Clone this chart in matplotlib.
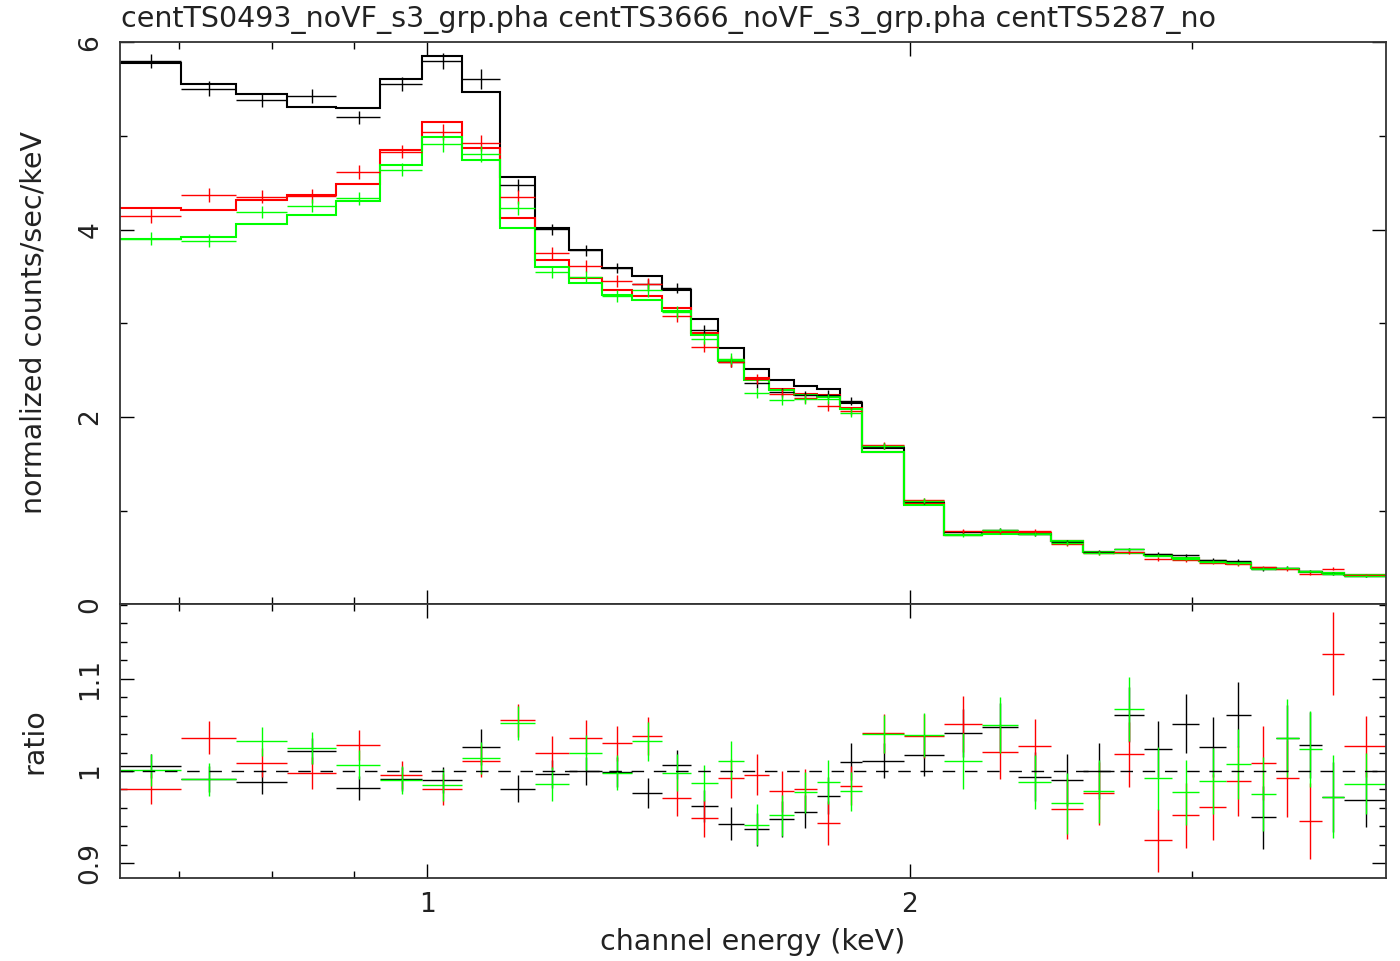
import numpy as np
import matplotlib.pyplot as plt
from matplotlib.ticker import FixedLocator, NullFormatter, FormatStrFormatter, MultipleLocator

# channel grouping (keV bin edges)
edges = [0.643, 0.702, 0.760, 0.818, 0.877, 0.935, 0.993, 1.052, 1.110, 1.168,
         1.226, 1.285, 1.343, 1.402, 1.460, 1.518, 1.577, 1.635, 1.693, 1.751,
         1.809, 1.868, 1.985, 2.101, 2.218, 2.336, 2.451, 2.567, 2.684, 2.801,
         2.917, 3.033, 3.150, 3.266, 3.384, 3.499, 3.617, 3.733, 3.972]

# folded model, counts/sec/keV
model_0493 = [5.775, 5.554, 5.447, 5.311, 5.297, 5.608, 5.857, 5.465, 4.563, 4.014,
              3.779, 3.594, 3.504, 3.354, 3.048, 2.738, 2.517, 2.391, 2.335, 2.299,
              2.150, 1.668, 1.080, 0.741, 0.759, 0.752, 0.677, 0.563, 0.552, 0.527,
              0.499, 0.463, 0.438, 0.392, 0.378, 0.349, 0.338, 0.310]
model_3666 = [4.228, 4.214, 4.313, 4.370, 4.488, 4.852, 5.144, 4.870, 4.121, 3.675,
              3.487, 3.351, 3.290, 3.166, 2.898, 2.613, 2.417, 2.299, 2.246, 2.238,
              2.100, 1.630, 1.070, 0.745, 0.762, 0.765, 0.672, 0.560, 0.548, 0.523,
              0.494, 0.460, 0.434, 0.390, 0.375, 0.347, 0.336, 0.308]
model_5287 = [3.900, 3.918, 4.060, 4.153, 4.303, 4.685, 4.990, 4.741, 4.021, 3.600,
              3.426, 3.297, 3.247, 3.129, 2.873, 2.595, 2.399, 2.292, 2.238, 2.214,
              2.090, 1.626, 1.065, 0.735, 0.752, 0.755, 0.675, 0.562, 0.550, 0.525,
              0.497, 0.462, 0.436, 0.391, 0.376, 0.348, 0.337, 0.309]

# data / model
ratio_0493 = [1.005, 0.991, 0.988, 1.022, 0.982, 0.991, 0.990, 1.026, 0.981, 0.997,
              1.000, 0.999, 0.976, 1.007, 0.962, 0.943, 0.937, 0.948, 0.956, 0.973,
              1.010, 1.011, 1.017, 1.041, 1.048, 0.994, 0.990, 1.000, 1.061, 1.024,
              1.051, 1.026, 1.061, 0.950, 1.036, 1.028, 0.972, 0.969]
ratio_3666 = [0.981, 1.036, 1.009, 0.998, 1.028, 0.996, 0.980, 1.011, 1.055, 1.020,
              1.036, 1.030, 1.038, 0.971, 0.949, 0.992, 0.996, 0.978, 0.980, 0.944,
              0.984, 1.041, 1.038, 1.051, 1.021, 1.027, 0.959, 0.976, 1.018, 0.925,
              0.952, 0.961, 0.989, 1.009, 0.992, 0.946, 1.127, 1.027]
ratio_5287 = [1.001, 0.991, 1.032, 1.025, 1.007, 0.990, 0.985, 1.014, 1.052, 0.986,
              1.020, 0.998, 1.032, 0.998, 0.987, 1.011, 0.942, 0.952, 0.977, 0.988,
              0.978, 1.040, 1.039, 1.011, 1.050, 0.988, 0.965, 0.978, 1.067, 0.992,
              0.977, 0.989, 1.008, 0.975, 1.036, 1.024, 0.972, 0.986]

# 1-sigma errors on the ratio
err_0493 = [0.013, 0.014, 0.013, 0.014, 0.013, 0.013, 0.014, 0.020, 0.015, 0.015,
            0.015, 0.016, 0.016, 0.016, 0.017, 0.018, 0.018, 0.019, 0.018, 0.020,
            0.020, 0.019, 0.022, 0.026, 0.026, 0.027, 0.028, 0.030, 0.030, 0.030,
            0.032, 0.032, 0.035, 0.034, 0.036, 0.036, 0.038, 0.030]
err_other = [0.017, 0.018, 0.016, 0.017, 0.016, 0.015, 0.017, 0.017, 0.018, 0.018,
             0.019, 0.019, 0.021, 0.020, 0.020, 0.021, 0.022, 0.022, 0.022, 0.024,
             0.021, 0.021, 0.024, 0.030, 0.030, 0.029, 0.033, 0.034, 0.035, 0.034,
             0.035, 0.036, 0.038, 0.040, 0.042, 0.041, 0.045, 0.033]

title = "centTS0493_noVF_s3_grp.pha centTS3666_noVF_s3_grp.pha centTS5287_no"

series = [
    (model_0493, ratio_0493, err_0493, "black"),
    (model_3666, ratio_3666, err_other, "#ff0000"),
    (model_5287, ratio_5287, err_other, "#00ff00"),
]

plt.rcParams['font.family'] = 'DejaVu Sans'
plt.rcParams['font.size'] = 19
txt_col = '#222222'
label_size = 20.5

W, H = 1400, 961
fig = plt.figure(figsize=(W / 100, H / 100), dpi=100)
left, right = 120 / W, 1386 / W
ax1 = fig.add_axes([left, 1 - 604.3 / H, right - left, (604.3 - 42.3) / H])
ax2 = fig.add_axes([left, 1 - 877.7 / H, right - left, (877.7 - 604.3) / H], sharex=ax1)

e = np.array(edges)
lo, hi = e[:-1], e[1:]
cen = (lo + hi) / 2
xerr = [cen - lo, hi - cen]

for model, ratio, err, col in series:
    model = np.array(model)
    ratio = np.array(ratio)
    err = np.array(err)
    ax1.errorbar(cen, model * ratio, xerr=xerr, yerr=err * model, fmt='none',
                 ecolor=col, elinewidth=1.0, capsize=0)
    ax1.stairs(model, e, color=col, lw=1.5, baseline=None)
    ax2.errorbar(cen, ratio, xerr=xerr, yerr=err, fmt='none',
                 ecolor=col, elinewidth=1.0, capsize=0)

ax2.axhline(1.0, color='black', lw=1.0, ls=(0, (9, 7)))

ax1.set_xscale('log')
ax1.set_xlim(0.6431, 3.966)
ax1.set_ylim(0, 6)
ax2.set_ylim(0.8844, 1.1806)

for ax in (ax1, ax2):
    ax.xaxis.set_major_locator(FixedLocator([1, 2]))
    ax.xaxis.set_minor_locator(FixedLocator([0.7, 0.8, 0.9, 3, 4]))
    ax.xaxis.set_major_formatter(FormatStrFormatter('%g'))
    ax.xaxis.set_minor_formatter(NullFormatter())
    ax.tick_params(which='both', direction='in', top=True, right=True,
                   width=1.0, colors='black', labelcolor=txt_col)
    ax.tick_params(which='major', length=10)
    ax.tick_params(which='minor', length=5.3)
    ax.tick_params(axis='y', pad=12, labelrotation=90)
    ax.tick_params(axis='x', pad=10)
    for sp in ax.spines.values():
        sp.set_linewidth(1.3)
        sp.set_color('#333333')

ax1.yaxis.set_major_locator(FixedLocator([0, 2, 4, 6]))
ax1.yaxis.set_minor_locator(MultipleLocator(1))
ax1.tick_params(axis='x', labelbottom=False)
ax2.yaxis.set_major_locator(FixedLocator([0.9, 1.0, 1.1]))
ax2.yaxis.set_minor_locator(MultipleLocator(0.02))
ax2.yaxis.set_major_formatter(FormatStrFormatter('%g'))

for ax in (ax1, ax2):
    for lbl in ax.get_yticklabels():
        lbl.set_verticalalignment('center')

fig.text(121 / W, 1 - 27 / H, title, ha='left', va='baseline', color=txt_col,
         fontsize=label_size)
fig.text(34 / W, 1 - 323 / H, "normalized counts/sec/keV", rotation=90,
         ha='center', va='center', color=txt_col, fontsize=label_size)
fig.text(34 / W, 1 - 741 / H, "ratio", rotation=90, ha='center', va='center',
         color=txt_col, fontsize=label_size)
fig.text(753 / W, 1 - 942 / H, "channel energy (keV)", ha='center', va='center',
         color=txt_col, fontsize=label_size)

fig.savefig('out.png', dpi=100)
